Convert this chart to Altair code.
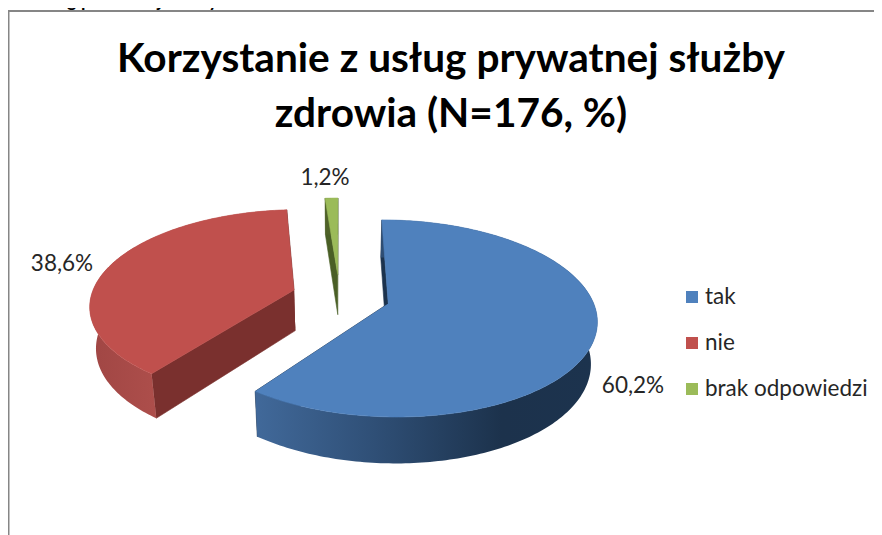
import math
import altair as alt
import pandas as pd

categories = ["tak", "nie", "brak odpowiedzi"]
shares = [60.2, 38.6, 1.2]
value_labels = ["60,2%", "38,6%", "1,2%"]
top_colors = ["#4F81BD", "#C0504D", "#9BBB59"]
title_lines = ["Korzystanie z usług prywatnej służby", "zdrowia (N=176, %)"]
cut_heading = "do usług publicznej służby zdrowia"

FONT = "Lato"
START = 0.0
CX, CY, A, B, K = 339.5, 296.0, 203.0, 94.0, 0.15
EXPLODE = [0.25, 0.235, 0.235]
SX, SY, DEPTH = 0.975, 1.045, 41.0
X_DOM, Y_DOM = [8, 874], [535, 8]


def top_point(theta, ex, ey):
    t = math.radians(theta)
    X = math.sin(t) + ex
    Y = -math.cos(t) + ey
    w = 1 - K * Y
    return CX + A * X / w, CY + B * Y / w


def apex(ex, ey):
    w = 1 - K * ey
    return CX + A * ex / w, CY + B * ey / w


def lower(p):
    return CX + (p[0] - CX) * SX, CY + (p[1] - CY) * SY + DEPTH


def grad(stops):
    return alt.LinearGradient(
        gradient="linear", x1=0, x2=1, y1=0, y2=0,
        stops=[alt.GradientStop(offset=o, color=c) for o, c in stops],
    )


scale_x = alt.Scale(domain=X_DOM, nice=False, zero=False)
scale_y = alt.Scale(domain=Y_DOM, nice=False, zero=False)


def poly(points, fill, stroke=None):
    df = pd.DataFrame({"x": [p[0] for p in points], "y": [p[1] for p in points], "i": range(len(points))})
    return alt.Chart(df).mark_line(
        fill=fill, stroke=stroke or "transparent", strokeWidth=0.6, filled=True
    ).encode(
        x=alt.X("x:Q", scale=scale_x, axis=None),
        y=alt.Y("y:Q", scale=scale_y, axis=None),
        order="i:Q",
    )


# angular spans from the shares
spans = []
a0 = START
for s in shares:
    a1 = a0 + s * 3.6
    spans.append((a0, a1))
    a0 = a1

wall_fill = [
    grad([(0, "#41699A"), (0.35, "#2F4F76"), (0.72, "#1C324C"), (1, "#1C334E")]),
    grad([(0, "#A04644"), (0.33, "#AD4E4B"), (1, "#AD4E4B")]),
    "#4F6228",
]
radial_fill = ["#1C334E", "#7A302E", "#4A5F26"]

layers = []
for idx in [2, 1, 0]:
    a0, a1 = spans[idx]
    mid = math.radians((a0 + a1) / 2)
    ex, ey = EXPLODE[idx] * math.sin(mid), -EXPLODE[idx] * math.cos(mid)
    n = max(int(a1 - a0), 3)
    arc = [top_point(a0 + (a1 - a0) * i / n, ex, ey) for i in range(n + 1)]
    ap = apex(ex, ey)
    # radial wall at the start and end of the slice
    for end in (arc[0], arc[-1]):
        layers.append(poly([ap, end, lower(end), lower(ap)], radial_fill[idx], radial_fill[idx]))
    # outer wall
    layers.append(poly(arc + [lower(p) for p in reversed(arc)], wall_fill[idx]))
    # top face
    layers.append(poly([ap] + arc, top_colors[idx], top_colors[idx]))


def texts(items, size, weight="normal", color="#262626", align="center"):
    df = pd.DataFrame(items, columns=["t", "x", "y"])
    return alt.Chart(df).mark_text(
        font=FONT, fontSize=size, fontWeight=weight, color=color, align=align, baseline="middle"
    ).encode(
        x=alt.X("x:Q", scale=scale_x, axis=None),
        y=alt.Y("y:Q", scale=scale_y, axis=None),
        text="t:N",
    )


frame = pd.DataFrame({"x": [8.5, 8.5, 874], "y": [535, 11, 11], "i": [0, 1, 2]})
frame_layer = alt.Chart(frame).mark_line(color="#868686", strokeWidth=2).encode(
    x=alt.X("x:Q", scale=scale_x, axis=None),
    y=alt.Y("y:Q", scale=scale_y, axis=None),
    order="i:Q",
)

title_layer = texts(
    [(title_lines[0], 451, 60), (title_lines[1], 451, 115)], 40.6, "bold", "#000000"
)
heading_layer = texts([(cut_heading, 8, 2)], 18, "bold", "#000000", "left")
label_layer = texts(
    [(value_labels[0], 633, 386), (value_labels[1], 62, 264), (value_labels[2], 325, 178)], 22.5
)

legend_y = [297, 343, 389]
legend_df = pd.DataFrame({"c": categories, "x": [692] * 3, "y": legend_y})
legend_marks = alt.Chart(legend_df).mark_square(size=144, opacity=1).encode(
    x=alt.X("x:Q", scale=scale_x, axis=None),
    y=alt.Y("y:Q", scale=scale_y, axis=None),
    fill=alt.Fill("c:N", scale=alt.Scale(domain=categories, range=top_colors), legend=None),
)
legend_text = texts([(c, 705, y) for c, y in zip(categories, legend_y)], 22.5, align="left")

chart = alt.layer(
    frame_layer, *layers, title_layer, heading_layer, label_layer, legend_marks, legend_text
).resolve_scale(x="shared", y="shared").properties(
    width=866, height=527, padding=0, autosize=alt.AutoSizeParams(type="none"), background="white"
).configure_view(stroke=None)

chart.save("out.html", embed_options={"renderer": "svg", "actions": False})
